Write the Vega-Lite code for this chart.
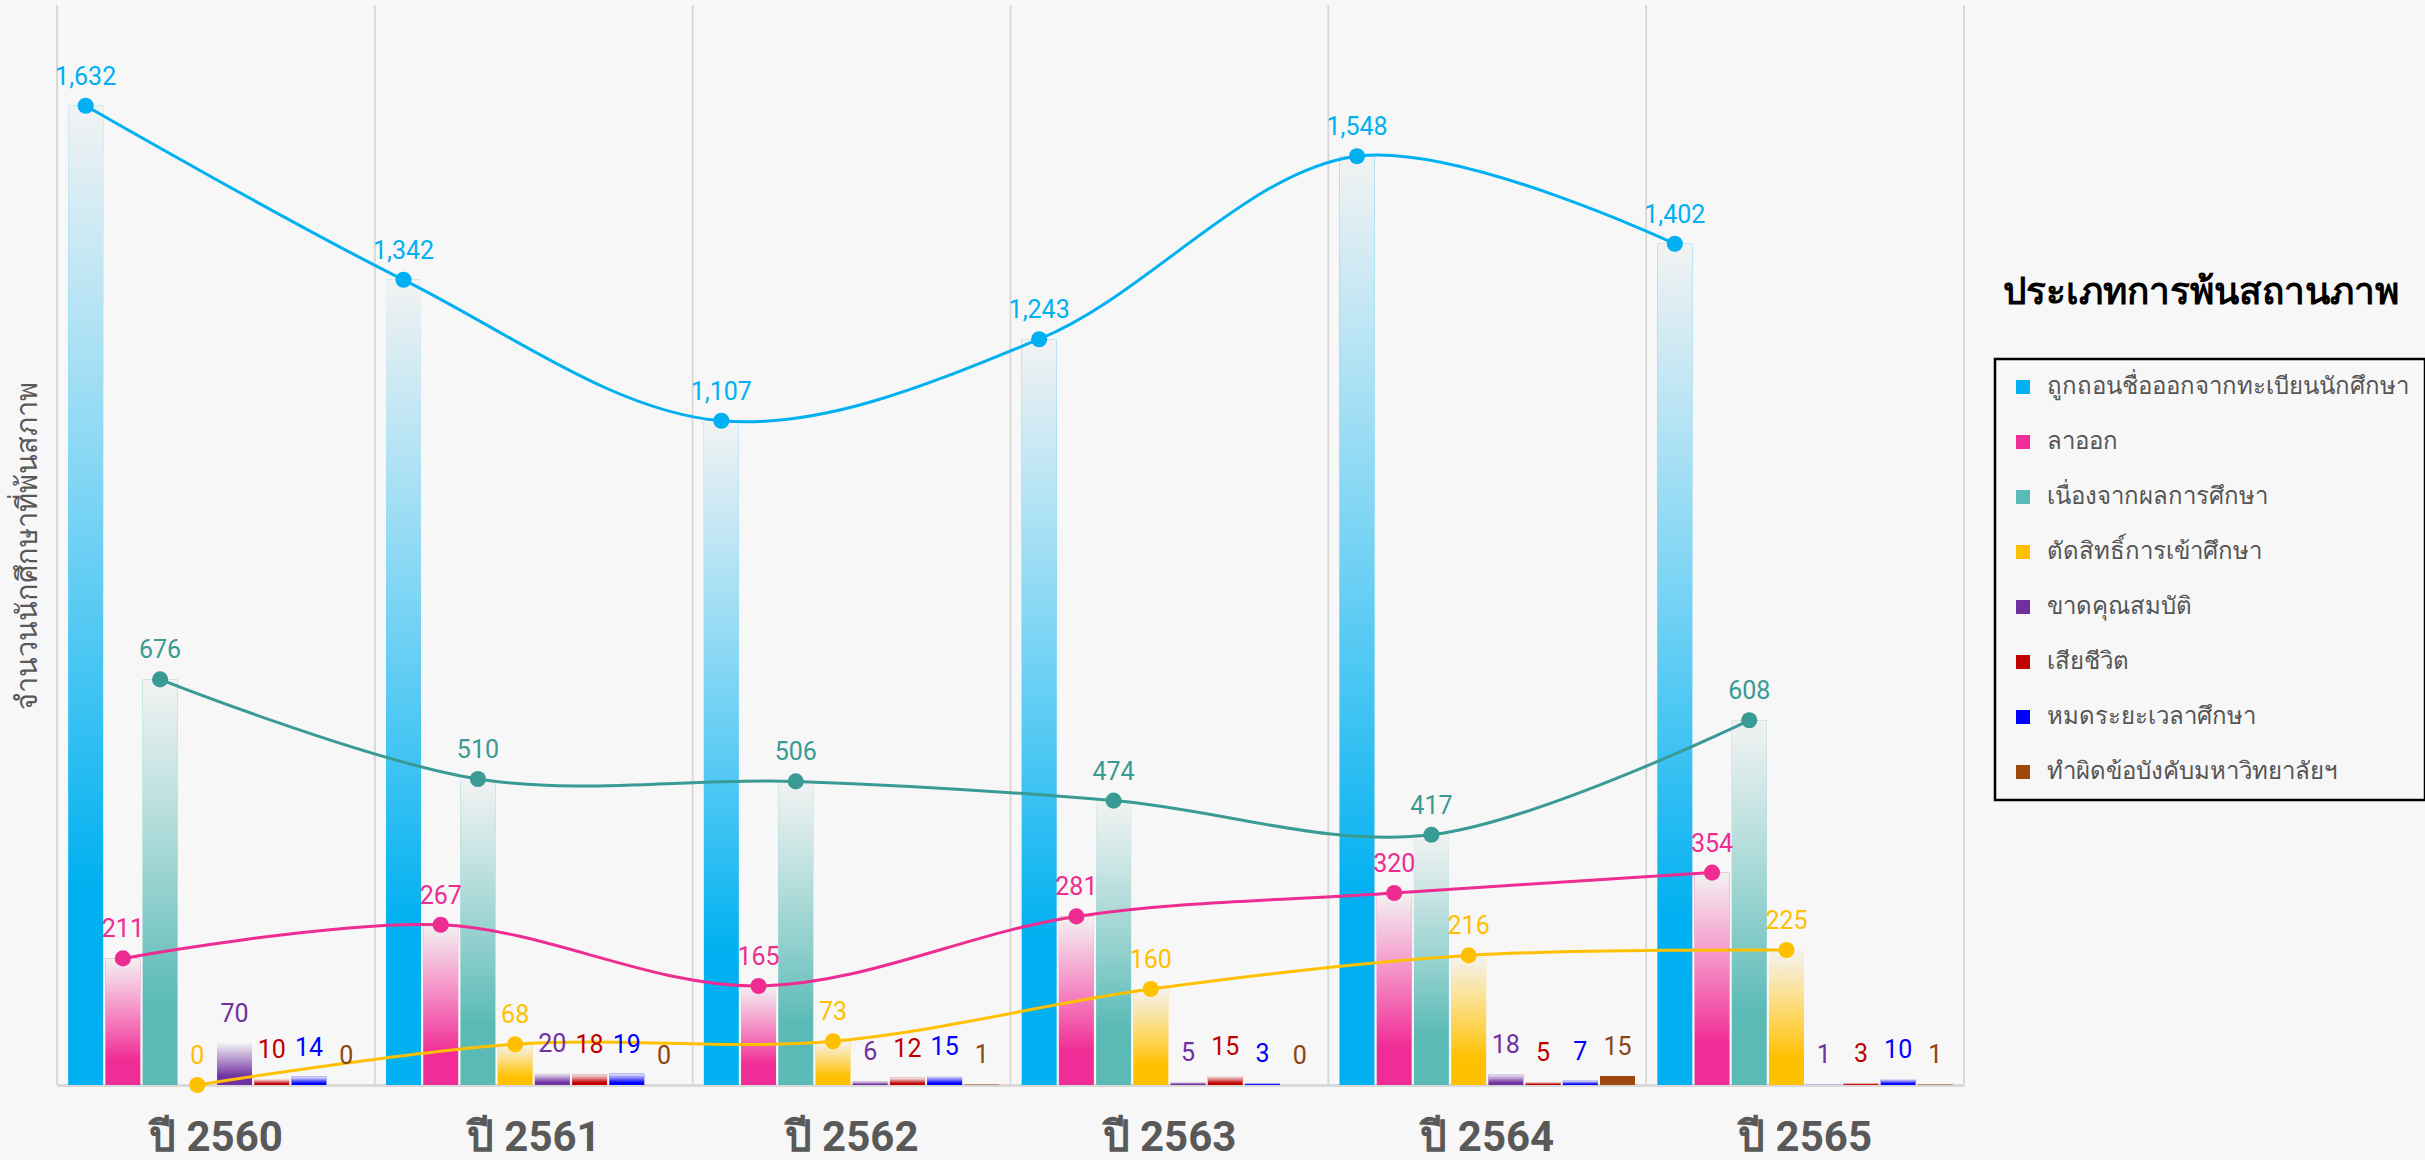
{
  "$schema": "https://vega.github.io/schema/vega-lite/v6.json",
  "width": 1907,
  "height": 1080,
  "autosize": "none",
  "padding": {"left": 57, "top": 5, "right": 461, "bottom": 75},
  "background": "#f7f7f7",
  "config": {"font": "Roboto", "view": {"stroke": null}, "legend": {"strokeWidth": 2.5}},
  "title": {"text": "ประเภทการพ้นสถานภาพ", "orient": "top", "anchor": "start", "frame": "group", "dx": 1946, "dy": 330, "fontSize": 37, "fontWeight": "bold", "color": "#000000", "baseline": "middle"},
  "data": {"values": [
    {"year": "ปี 2560", "cat": "ถูกถอนชื่อออกจากทะเบียนนักศึกษา", "value": 1632},
    {"year": "ปี 2560", "cat": "ลาออก", "value": 211},
    {"year": "ปี 2560", "cat": "เนื่องจากผลการศึกษา", "value": 676},
    {"year": "ปี 2560", "cat": "ตัดสิทธิ์การเข้าศึกษา", "value": 0},
    {"year": "ปี 2560", "cat": "ขาดคุณสมบัติ", "value": 70},
    {"year": "ปี 2560", "cat": "เสียชีวิต", "value": 10},
    {"year": "ปี 2560", "cat": "หมดระยะเวลาศึกษา", "value": 14},
    {"year": "ปี 2560", "cat": "ทำผิดข้อบังคับมหาวิทยาลัยฯ", "value": 0},
    {"year": "ปี 2561", "cat": "ถูกถอนชื่อออกจากทะเบียนนักศึกษา", "value": 1342},
    {"year": "ปี 2561", "cat": "ลาออก", "value": 267},
    {"year": "ปี 2561", "cat": "เนื่องจากผลการศึกษา", "value": 510},
    {"year": "ปี 2561", "cat": "ตัดสิทธิ์การเข้าศึกษา", "value": 68},
    {"year": "ปี 2561", "cat": "ขาดคุณสมบัติ", "value": 20},
    {"year": "ปี 2561", "cat": "เสียชีวิต", "value": 18},
    {"year": "ปี 2561", "cat": "หมดระยะเวลาศึกษา", "value": 19},
    {"year": "ปี 2561", "cat": "ทำผิดข้อบังคับมหาวิทยาลัยฯ", "value": 0},
    {"year": "ปี 2562", "cat": "ถูกถอนชื่อออกจากทะเบียนนักศึกษา", "value": 1107},
    {"year": "ปี 2562", "cat": "ลาออก", "value": 165},
    {"year": "ปี 2562", "cat": "เนื่องจากผลการศึกษา", "value": 506},
    {"year": "ปี 2562", "cat": "ตัดสิทธิ์การเข้าศึกษา", "value": 73},
    {"year": "ปี 2562", "cat": "ขาดคุณสมบัติ", "value": 6},
    {"year": "ปี 2562", "cat": "เสียชีวิต", "value": 12},
    {"year": "ปี 2562", "cat": "หมดระยะเวลาศึกษา", "value": 15},
    {"year": "ปี 2562", "cat": "ทำผิดข้อบังคับมหาวิทยาลัยฯ", "value": 1},
    {"year": "ปี 2563", "cat": "ถูกถอนชื่อออกจากทะเบียนนักศึกษา", "value": 1243},
    {"year": "ปี 2563", "cat": "ลาออก", "value": 281},
    {"year": "ปี 2563", "cat": "เนื่องจากผลการศึกษา", "value": 474},
    {"year": "ปี 2563", "cat": "ตัดสิทธิ์การเข้าศึกษา", "value": 160},
    {"year": "ปี 2563", "cat": "ขาดคุณสมบัติ", "value": 5},
    {"year": "ปี 2563", "cat": "เสียชีวิต", "value": 15},
    {"year": "ปี 2563", "cat": "หมดระยะเวลาศึกษา", "value": 3},
    {"year": "ปี 2563", "cat": "ทำผิดข้อบังคับมหาวิทยาลัยฯ", "value": 0},
    {"year": "ปี 2564", "cat": "ถูกถอนชื่อออกจากทะเบียนนักศึกษา", "value": 1548},
    {"year": "ปี 2564", "cat": "ลาออก", "value": 320},
    {"year": "ปี 2564", "cat": "เนื่องจากผลการศึกษา", "value": 417},
    {"year": "ปี 2564", "cat": "ตัดสิทธิ์การเข้าศึกษา", "value": 216},
    {"year": "ปี 2564", "cat": "ขาดคุณสมบัติ", "value": 18},
    {"year": "ปี 2564", "cat": "เสียชีวิต", "value": 5},
    {"year": "ปี 2564", "cat": "หมดระยะเวลาศึกษา", "value": 7},
    {"year": "ปี 2564", "cat": "ทำผิดข้อบังคับมหาวิทยาลัยฯ", "value": 15},
    {"year": "ปี 2565", "cat": "ถูกถอนชื่อออกจากทะเบียนนักศึกษา", "value": 1402},
    {"year": "ปี 2565", "cat": "ลาออก", "value": 354},
    {"year": "ปี 2565", "cat": "เนื่องจากผลการศึกษา", "value": 608},
    {"year": "ปี 2565", "cat": "ตัดสิทธิ์การเข้าศึกษา", "value": 225},
    {"year": "ปี 2565", "cat": "ขาดคุณสมบัติ", "value": 1},
    {"year": "ปี 2565", "cat": "เสียชีวิต", "value": 3},
    {"year": "ปี 2565", "cat": "หมดระยะเวลาศึกษา", "value": 10},
    {"year": "ปี 2565", "cat": "ทำผิดข้อบังคับมหาวิทยาลัยฯ", "value": 1}
  ]},
  "encoding": {
    "x": {"field": "year", "type": "nominal", "sort": null,
      "scale": {"paddingInner": 0, "paddingOuter": 0},
      "axis": {"title": null, "grid": false, "ticks": false, "domain": true, "domainColor": "#d9d9d9", "domainWidth": 3, "labelFontSize": 42, "labelFontWeight": "bold", "labelColor": "#595959", "labelPadding": 32, "labelAngle": 0}},
    "y": {"field": "value", "type": "quantitative",
      "scale": {"domain": [0, 1800], "nice": false},
      "axis": {"title": "จำนวนนักศึกษาที่พ้นสภาพ", "titleFontSize": 29, "titleFontWeight": "normal", "titleColor": "#595959", "titlePadding": 15, "labels": false, "ticks": false, "domain": false, "grid": false}}
  },
  "layer": [
    {
      "transform": [{"filter": "datum.cat === 'ลาออก'"}],
      "mark": {"type": "rule", "color": "#d9d9d9", "strokeWidth": 2},
      "encoding": {"x": {"field": "year", "type": "nominal", "sort": null, "bandPosition": 0}, "y": null}
    },
    {
      "transform": [{"filter": "datum.cat === 'ลาออก' && datum.year === 'ปี 2565'"}],
      "mark": {"type": "rule", "color": "#d9d9d9", "strokeWidth": 2},
      "encoding": {"x": {"field": "year", "type": "nominal", "sort": null, "bandPosition": 1}, "y": null}
    },
    {
      "mark": {"type": "bar"},
      "encoding": {
        "xOffset": {"field": "cat", "type": "nominal", "sort": null,
          "scale": {"domain": ["ถูกถอนชื่อออกจากทะเบียนนักศึกษา", "ลาออก", "เนื่องจากผลการศึกษา", "ตัดสิทธิ์การเข้าศึกษา", "ขาดคุณสมบัติ", "เสียชีวิต", "หมดระยะเวลาศึกษา", "ทำผิดข้อบังคับมหาวิทยาลัยฯ"], "paddingInner": 0.06, "paddingOuter": 0.3}},
        "color": {"field": "cat", "type": "nominal", "sort": null,
          "scale": {"domain": ["ถูกถอนชื่อออกจากทะเบียนนักศึกษา", "ลาออก", "เนื่องจากผลการศึกษา", "ตัดสิทธิ์การเข้าศึกษา", "ขาดคุณสมบัติ", "เสียชีวิต", "หมดระยะเวลาศึกษา", "ทำผิดข้อบังคับมหาวิทยาลัยฯ"],
            "range": ["#00B0F0", "#F02D96", "#5BBAB6", "#FFC000", "#7030A0", "#C00000", "#0000FF", "#9E480E"]},
          "legend": {"title": null, "orient": "none", "legendX": 1938, "legendY": 354, "padding": 16, "strokeColor": "#000000", "symbolType": "square", "symbolSize": 196, "symbolStrokeWidth": 0, "labelFontSize": 24, "labelColor": "#555555", "labelOffset": 12, "rowPadding": 31, "labelLimit": 600}}
      }
    },
    {
      "transform": [{"filter": "datum.cat !== 'ทำผิดข้อบังคับมหาวิทยาลัยฯ'"}],
      "mark": {"type": "bar", "fill": {"gradient": "linear", "x1": 0, "y1": 0, "x2": 0, "y2": 1, "stops": [{"offset": 0, "color": "rgba(242,242,242,1)"}, {"offset": 0.8, "color": "rgba(255,255,255,0)"}]}},
      "encoding": {
        "xOffset": {"field": "cat", "type": "nominal", "sort": null}
      }
    },
    {
      "transform": [{"filter": "indexof(['ถูกถอนชื่อออกจากทะเบียนนักศึกษา','ลาออก','เนื่องจากผลการศึกษา','ตัดสิทธิ์การเข้าศึกษา'], datum.cat) >= 0"}],
      "mark": {"type": "line", "interpolate": "catmull-rom", "strokeWidth": 3},
      "encoding": {
        "xOffset": {"field": "cat", "type": "nominal", "sort": null},
        "detail": {"field": "cat", "type": "nominal"},
        "stroke": {"field": "cat", "type": "nominal", "sort": null, "legend": null,
          "scale": {"domain": ["ถูกถอนชื่อออกจากทะเบียนนักศึกษา", "ลาออก", "เนื่องจากผลการศึกษา", "ตัดสิทธิ์การเข้าศึกษา"], "range": ["#00B0F0", "#EE2D92", "#3A9A94", "#FFC000"]}}
      }
    },
    {
      "transform": [{"filter": "indexof(['ถูกถอนชื่อออกจากทะเบียนนักศึกษา','ลาออก','เนื่องจากผลการศึกษา','ตัดสิทธิ์การเข้าศึกษา'], datum.cat) >= 0"}],
      "mark": {"type": "point", "filled": true, "size": 260, "opacity": 1},
      "encoding": {
        "xOffset": {"field": "cat", "type": "nominal", "sort": null},
        "fill": {"field": "cat", "type": "nominal", "sort": null, "legend": null}
      }
    },
    {
      "mark": {"type": "text", "dy": -29, "fontSize": 25, "baseline": "middle", "align": "center"},
      "encoding": {
        "xOffset": {"field": "cat", "type": "nominal", "sort": null},
        "text": {"field": "value", "type": "quantitative", "format": ","},
        "fill": {"field": "cat", "type": "nominal", "sort": null, "legend": null,
          "scale": {"domain": ["ถูกถอนชื่อออกจากทะเบียนนักศึกษา", "ลาออก", "เนื่องจากผลการศึกษา", "ตัดสิทธิ์การเข้าศึกษา", "ขาดคุณสมบัติ", "เสียชีวิต", "หมดระยะเวลาศึกษา", "ทำผิดข้อบังคับมหาวิทยาลัยฯ"],
            "range": ["#00B0F0", "#EE2D92", "#3A9A94", "#FFC000", "#7030A0", "#C00000", "#0000FF", "#8B4513"]}}
      }
    }
  ]
}
